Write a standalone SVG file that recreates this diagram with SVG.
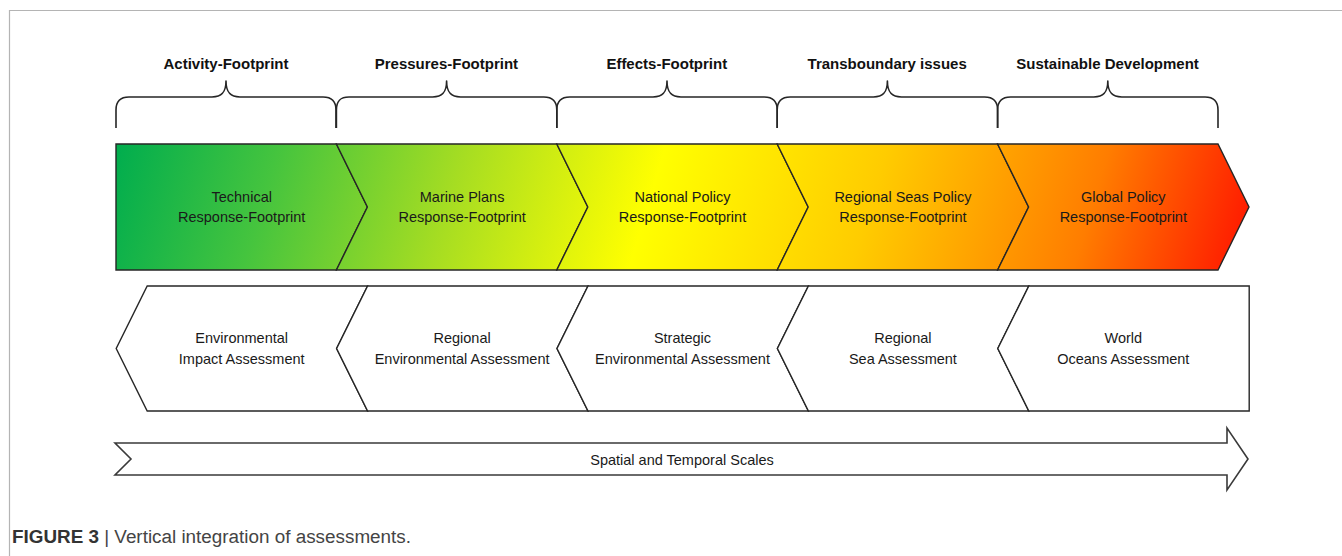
<svg xmlns="http://www.w3.org/2000/svg" width="1342" height="556" viewBox="0 0 1342 556">
  <defs>
    <!-- one continuous green-yellow-red ramp shared by all response chevrons -->
    <linearGradient id="ramp" gradientUnits="userSpaceOnUse" x1="116" y1="144" x2="1190" y2="466">
      <stop offset="0" stop-color="#00ad4e"/>
      <stop offset="0.14" stop-color="#45c43e"/>
      <stop offset="0.30" stop-color="#a6dd22"/>
      <stop offset="0.47" stop-color="#ffff00"/>
      <stop offset="0.66" stop-color="#ffcc00"/>
      <stop offset="0.85" stop-color="#ff7d00"/>
      <stop offset="1" stop-color="#ff1200"/>
    </linearGradient>
    <style>
      .frame { fill: none; stroke: #b4b4b4; stroke-width: 1.2; }
      .brace { fill: none; stroke: #262626; stroke-width: 1.6; stroke-linejoin: round; }
      .resp { fill: url(#ramp); stroke: #262626; stroke-width: 1.4; stroke-linejoin: miter; }
      .assess { fill: #ffffff; stroke: #262626; stroke-width: 1.4; }
      .scale { fill: #ffffff; stroke: #3a3a3a; stroke-width: 1.6; }
      .head { font-family: "Liberation Sans", Arial, sans-serif; font-size: 15px; font-weight: bold; fill: #111; text-anchor: middle; }
      .lbl { font-family: "Liberation Sans", Arial, sans-serif; font-size: 14.5px; fill: #1a1a1a; text-anchor: middle; }
      .cap { font-family: "Liberation Sans", Arial, sans-serif; font-size: 18px; fill: #444; }
      .capb { font-weight: bold; fill: #333; }
    </style>
  </defs>

  <rect width="1342" height="556" fill="#ffffff"/>
  <path class="frame" d="M9.5 556 V10.5 H1342"/>

  <!-- footprint braces with headings -->
  <g id="braces">
    <path class="brace" d="M116 128 V110 C116 101 120 97 129 97 H212 C222 97 226 92 226 81 C226 92 230 97 240 97 H323 C332 97 336 101 336 110 V128"/>
    <path class="brace" d="M336.4 128 V110 C336.4 101 340 97 349 97 H432.6 C442.6 97 446.6 92 446.6 81 C446.6 92 450.6 97 460.6 97 H543.8 C552.8 97 556.8 101 556.8 110 V128"/>
    <path class="brace" d="M556.8 128 V110 C556.8 101 560.8 97 569.8 97 H653 C663 97 667 92 667 81 C667 92 671 97 681 97 H764.2 C773.2 97 777.2 101 777.2 110 V128"/>
    <path class="brace" d="M777.2 128 V110 C777.2 101 781.2 97 790.2 97 H873.4 C883.4 97 887.4 92 887.4 81 C887.4 92 891.4 97 901.4 97 H984.6 C993.6 97 997.6 101 997.6 110 V128"/>
    <path class="brace" d="M997.6 128 V110 C997.6 101 1001.6 97 1010.6 97 H1093.8 C1103.8 97 1107.8 92 1107.8 81 C1107.8 92 1111.8 97 1121.8 97 H1205 C1214 97 1218 101 1218 110 V128"/>
  </g>
  <g id="headings">
    <text class="head" x="226" y="68.5">Activity-Footprint</text>
    <text class="head" x="446.4" y="68.5">Pressures-Footprint</text>
    <text class="head" x="666.8" y="68.5">Effects-Footprint</text>
    <text class="head" x="887.2" y="68.5">Transboundary issues</text>
    <text class="head" x="1107.6" y="68.5">Sustainable Development</text>
  </g>

  <!-- response-footprint chevrons (pointing right) -->
  <g id="resp-technical">
    <polygon class="resp" points="116,144 336.4,144 367.4,207 336.4,270 116,270"/>
    <text class="lbl" x="241.7" y="202">Technical</text>
    <text class="lbl" x="241.7" y="222">Response-Footprint</text>
  </g>
  <g id="resp-marine">
    <polygon class="resp" points="336.4,144 556.8,144 587.8,207 556.8,270 336.4,270 367.4,207"/>
    <text class="lbl" x="462.1" y="202">Marine Plans</text>
    <text class="lbl" x="462.1" y="222">Response-Footprint</text>
  </g>
  <g id="resp-national">
    <polygon class="resp" points="556.8,144 777.2,144 808.2,207 777.2,270 556.8,270 587.8,207"/>
    <text class="lbl" x="682.5" y="202">National Policy</text>
    <text class="lbl" x="682.5" y="222">Response-Footprint</text>
  </g>
  <g id="resp-regional">
    <polygon class="resp" points="777.2,144 997.6,144 1028.6,207 997.6,270 777.2,270 808.2,207"/>
    <text class="lbl" x="902.9" y="202">Regional Seas Policy</text>
    <text class="lbl" x="902.9" y="222">Response-Footprint</text>
  </g>
  <g id="resp-global">
    <polygon class="resp" points="997.6,144 1218,144 1249,207 1218,270 997.6,270 1028.6,207"/>
    <text class="lbl" x="1123.3" y="202">Global Policy</text>
    <text class="lbl" x="1123.3" y="222">Response-Footprint</text>
  </g>

  <!-- assessment chevrons (pointing left) -->
  <g id="assess-eia">
    <polygon class="assess" points="147.2,286 367.6,286 336.6,348.5 367.6,411 147.2,411 116.2,348.5"/>
    <text class="lbl" x="241.7" y="343">Environmental</text>
    <text class="lbl" x="241.7" y="364">Impact Assessment</text>
  </g>
  <g id="assess-rea">
    <polygon class="assess" points="367.6,286 588,286 557,348.5 588,411 367.6,411 336.6,348.5"/>
    <text class="lbl" x="462.1" y="343">Regional</text>
    <text class="lbl" x="462.1" y="364">Environmental Assessment</text>
  </g>
  <g id="assess-sea">
    <polygon class="assess" points="588,286 808.4,286 777.4,348.5 808.4,411 588,411 557,348.5"/>
    <text class="lbl" x="682.5" y="343">Strategic</text>
    <text class="lbl" x="682.5" y="364">Environmental Assessment</text>
  </g>
  <g id="assess-rsa">
    <polygon class="assess" points="808.4,286 1028.8,286 997.8,348.5 1028.8,411 808.4,411 777.4,348.5"/>
    <text class="lbl" x="902.9" y="343">Regional</text>
    <text class="lbl" x="902.9" y="364">Sea Assessment</text>
  </g>
  <g id="assess-woa">
    <polygon class="assess" points="1028.8,286 1249.2,286 1249.2,411 1028.8,411 997.8,348.5"/>
    <text class="lbl" x="1123.3" y="343">World</text>
    <text class="lbl" x="1123.3" y="364">Oceans Assessment</text>
  </g>

  <!-- scale arrow -->
  <g id="scales">
    <polygon class="scale" points="115,443 1227,443 1227,428 1248,459 1227,490 1227,475 115,475 131,459"/>
    <text class="lbl" x="682" y="465">Spatial and Temporal Scales</text>
  </g>

  <text class="cap" x="12" y="543" textLength="399" lengthAdjust="spacingAndGlyphs"><tspan class="capb">FIGURE 3</tspan> | Vertical integration of assessments.</text>
</svg>
